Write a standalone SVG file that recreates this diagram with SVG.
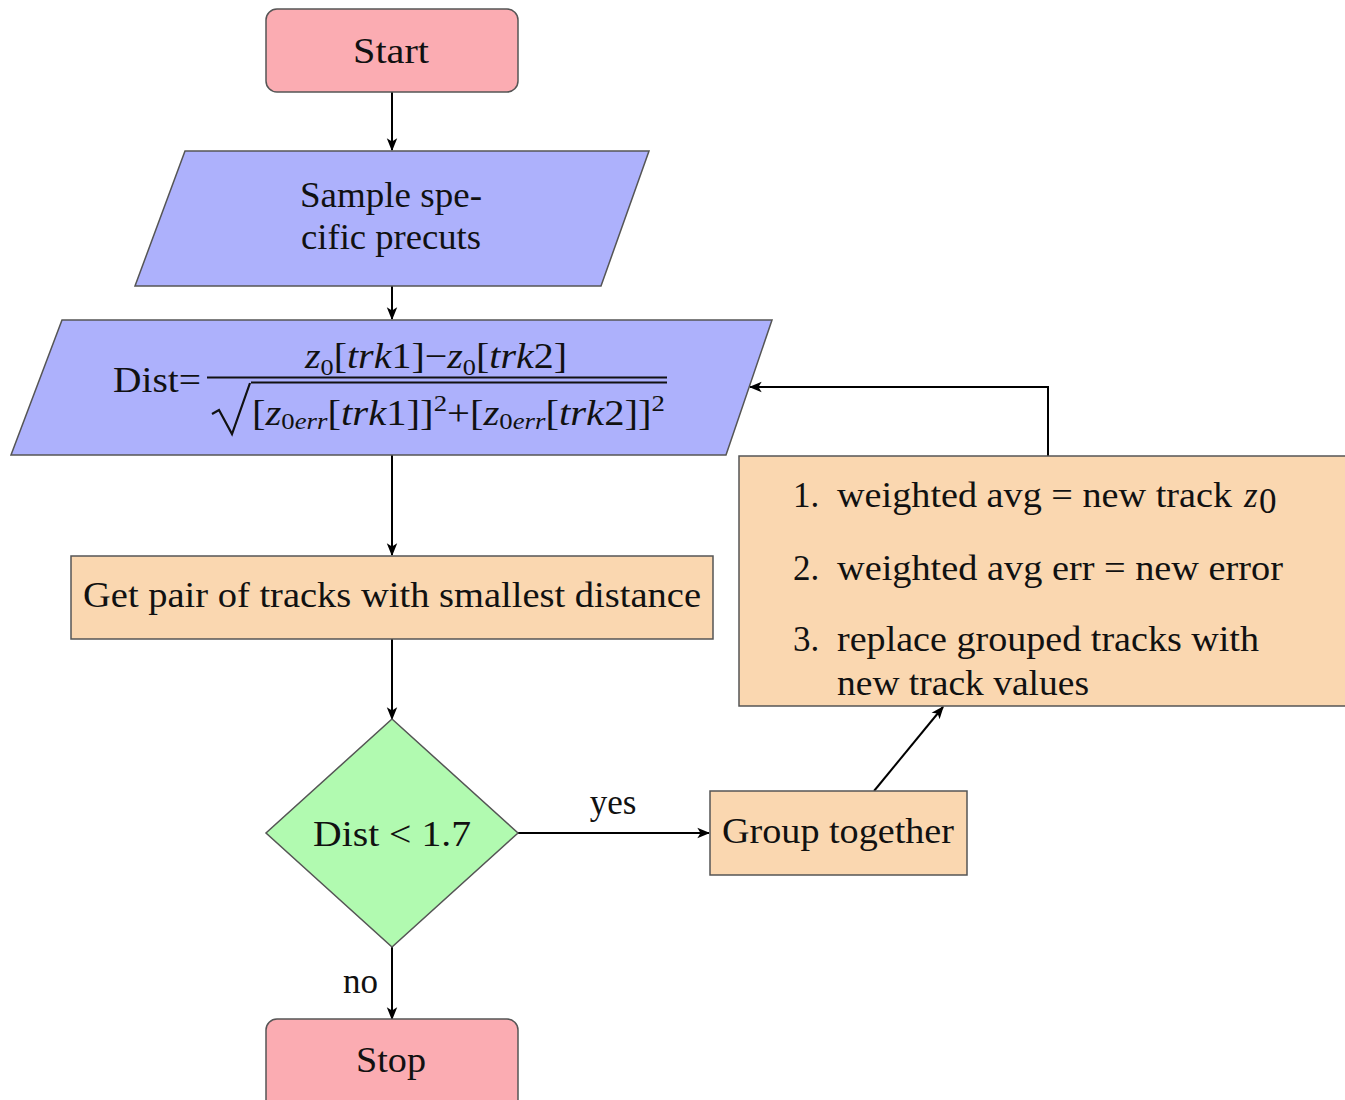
<svg xmlns="http://www.w3.org/2000/svg" width="1345" height="1100" viewBox="0 0 1345 1100">
<defs>
<marker id="arr" viewBox="0 0 10 10" refX="9" refY="5" markerWidth="13" markerHeight="13" markerUnits="userSpaceOnUse" orient="auto">
<path d="M0,1 L10,5 L0,9 L2.5,5 Z" fill="#000"/>
</marker>
</defs>
<style>
.n{stroke:#555;stroke-width:1.5}
.term{fill:#fbacb2}
.io{fill:#adb1fc}
.proc{fill:#fad7b0}
.dec{fill:#b1fab0}
text{font-family:"Liberation Serif","DejaVu Serif",serif;fill:#111;font-size:35px}
.c{text-anchor:middle}
.m{font-style:italic}
.e{stroke:#000;stroke-width:2;fill:none;marker-end:url(#arr)}
</style>
<rect width="1345" height="1100" fill="#fff"/>
<g id="connectors">
<line class="e" x1="392" y1="92" x2="392" y2="150"/>
<line class="e" x1="392" y1="286" x2="392" y2="319"/>
<line class="e" x1="392" y1="455" x2="392" y2="555"/>
<line class="e" x1="392" y1="639" x2="392" y2="719"/>
<line class="e" x1="518" y1="833" x2="709" y2="833"/>
<line class="e" x1="874" y1="791" x2="943" y2="707"/>
<polyline class="e" points="1048,456 1048,387 750,387"/>
<line class="e" x1="392" y1="947" x2="392" y2="1019"/>
<text x="613" y="814" class="c" font-size="31">yes</text>
<text x="378" y="993" text-anchor="end" font-size="31">no</text>
</g>
<g id="start">
<rect class="n term" x="266" y="9" width="252" height="83" rx="11"/>
<text x="391" y="63" class="c" textLength="76" lengthAdjust="spacingAndGlyphs">Start</text>
</g>
<g id="precuts">
<polygon class="n io" points="185,151 649,151 601,286 135,286"/>
<text x="391" y="207" class="c" textLength="182" lengthAdjust="spacingAndGlyphs">Sample spe-</text>
<text x="391" y="249" class="c" textLength="180" lengthAdjust="spacingAndGlyphs">cific precuts</text>
</g>
<g id="dist">
<polygon class="n io" points="62,320 772,320 726,455 11,455"/>
<text x="113" y="392" textLength="88" lengthAdjust="spacingAndGlyphs">Dist=</text>
<text x="305" y="368" font-size="33" textLength="262" lengthAdjust="spacingAndGlyphs"><tspan class="m">z</tspan><tspan font-size="23" dy="7">0</tspan><tspan dy="-7">[</tspan><tspan class="m">trk</tspan>1]−<tspan class="m">z</tspan><tspan font-size="23" dy="7">0</tspan><tspan dy="-7">[</tspan><tspan class="m">trk</tspan>2]</text>
<line x1="207" y1="377.5" x2="667" y2="377.5" stroke="#111" stroke-width="2"/>
<line x1="251" y1="382.5" x2="667" y2="382.5" stroke="#111" stroke-width="2"/>
<polyline points="212,414 219,410 232,434 250,383" fill="none" stroke="#111" stroke-width="2.2"/>
<text x="252" y="425" font-size="33" textLength="413" lengthAdjust="spacingAndGlyphs">[<tspan class="m">z</tspan><tspan font-size="23" dy="4">0</tspan><tspan font-size="23" class="m">err</tspan><tspan dy="-4">[</tspan><tspan class="m">trk</tspan>1]]<tspan font-size="23" dy="-14">2</tspan><tspan dy="14">+[</tspan><tspan class="m">z</tspan><tspan font-size="23" dy="4">0</tspan><tspan font-size="23" class="m">err</tspan><tspan dy="-4">[</tspan><tspan class="m">trk</tspan>2]]<tspan font-size="23" dy="-14">2</tspan></text>
</g>
<g id="getpair">
<rect class="n proc" x="71" y="556" width="642" height="83"/>
<text x="392" y="607" class="c" textLength="618" lengthAdjust="spacingAndGlyphs">Get pair of tracks with smallest distance</text>
</g>
<g id="decision">
<polygon class="n dec" points="392,719 518,833 392,947 266,833"/>
<text x="392" y="846" class="c" textLength="158" lengthAdjust="spacingAndGlyphs">Dist &lt; 1.7</text>
</g>
<g id="group">
<rect class="n proc" x="710" y="791" width="257" height="84"/>
<text x="838" y="843" class="c" textLength="232" lengthAdjust="spacingAndGlyphs">Group together</text>
</g>
<g id="update">
<rect class="n proc" x="739" y="456" width="610" height="250"/>
<text x="793" y="507">1.</text>
<text x="837" y="507" textLength="395" lengthAdjust="spacingAndGlyphs">weighted avg = new track</text>
<text x="1244" y="507" class="m">z</text>
<text x="1259" y="513" font-size="23">0</text>
<text x="793" y="580">2.</text>
<text x="837" y="580" textLength="446" lengthAdjust="spacingAndGlyphs">weighted avg err = new error</text>
<text x="793" y="651">3.</text>
<text x="837" y="651" textLength="422" lengthAdjust="spacingAndGlyphs">replace grouped tracks with</text>
<text x="837" y="695" textLength="252" lengthAdjust="spacingAndGlyphs">new track values</text>
</g>
<g id="stop">
<rect class="n term" x="266" y="1019" width="252" height="95" rx="11"/>
<text x="391" y="1072" class="c" textLength="70" lengthAdjust="spacingAndGlyphs">Stop</text>
</g>
</svg>
